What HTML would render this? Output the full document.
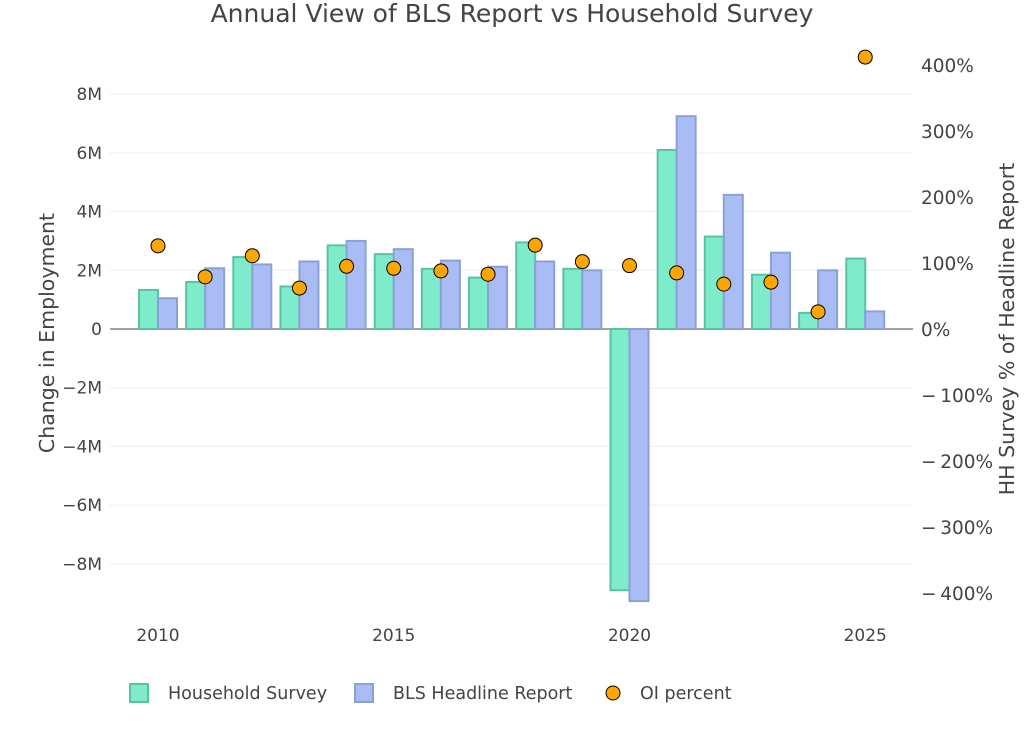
<!DOCTYPE html>
<html><head><meta charset="utf-8"><style>
body{margin:0;background:#fff;font-family:"DejaVu Sans","Liberation Sans",sans-serif}
svg text{font-family:"DejaVu Sans","Liberation Sans",sans-serif;fill:#444}
</style></head><body>
<svg id="c" width="1024" height="732">
<text x="512" y="22" text-anchor="middle" font-size="25">Annual View of BLS Report vs Household Survey</text>
<g id="grid"></g><g id="bars"></g><g id="pts"></g><g id="axes"></g>
<text transform="translate(54,333) rotate(-90)" text-anchor="middle" font-size="20.5">Change in Employment</text>
<text transform="translate(1014,329) rotate(-90)" text-anchor="middle" font-size="20.5">HH Survey % of Headline Report</text>
<g>
<rect x="130" y="684" width="18" height="18" fill="#7eeccb" stroke="#5ac2a3" stroke-width="2"/>
<text x="168" y="699" font-size="17.5">Household Survey</text>
<rect x="355" y="684" width="18" height="18" fill="#aabcf4" stroke="#8ba1d6" stroke-width="2"/>
<text x="393" y="699" font-size="17.5">BLS Headline Report</text>
<circle cx="613" cy="693" r="7" fill="#ffa500" stroke="#000" stroke-width="1"/>
<text x="640" y="699" font-size="17.5">OI percent</text>
</g>
</svg>
<script>
const years=[2010,2011,2012,2013,2014,2015,2016,2017,2018,2019,2020,2021,2022,2023,2024,2025];
const household=[1.33,1.6,2.45,1.45,2.85,2.55,2.05,1.75,2.95,2.05,-8.9,6.1,3.15,1.85,0.55,2.4];
const bls=[1.05,2.07,2.2,2.3,3.0,2.72,2.33,2.12,2.3,2.0,-9.27,7.25,4.57,2.6,2.0,0.6];
const oiPercent=[126,79,111,62,95,92,88,83,127,102,96,85,68,71,26,412];
const yTicks=[-8,-6,-4,-2,0,2,4,6,8];
const y2Ticks=[-400,-300,-200,-100,0,100,200,300,400];
const xTicks=[2010,2015,2020,2025];
const NS='http://www.w3.org/2000/svg';
const X=v=>158+(v-2010)*47.15;
const Y=v=>329-v*29.35;
const Y2=v=>329-v*0.66;
function mk(p,t,a){const e=document.createElementNS(NS,t);for(const k in a)e.setAttribute(k,a[k]);document.getElementById(p).appendChild(e);return e;}
yTicks.forEach(t=>{
 const l=mk('grid','line',{x1:110,x2:913,y1:Y(t),y2:Y(t),stroke:t===0?'#444':'#eee','stroke-width':1});
 
 
 const tx=mk('axes','text',{x:102,y:Y(t)+6,'text-anchor':'end','font-size':17});
 tx.textContent=t===0?'0':(t<0?'−'+(-t):t)+'M';
 
 
});
y2Ticks.forEach(t=>{
 const tx=mk('axes','text',{x:921,y:Y2(t)+7,'font-size':18.5});
 tx.textContent=(t<0?'−\u2009'+(-t):t)+'%';
 
 
});
xTicks.forEach(t=>{
 const tx=mk('axes','text',{x:X(t),y:641,'text-anchor':'middle','font-size':17});
 tx.textContent=t;
 
 
});
years.forEach((yr,i)=>{
 [[household[i],-19,'#7eeccb','#5ac2a3','bar-household'],[bls[i],0,'#aabcf4','#8ba1d6','bar-bls']].forEach(([v,o,f,s,n])=>{
  const r=mk('bars','rect',{x:X(yr)+o,y:Math.min(Y(v),Y(0)),width:19,height:Math.abs(Y(v)-Y(0)),fill:f,stroke:s,'stroke-width':2});
  
  
 });
 const c=mk('pts','circle',{cx:X(yr),cy:Y2(oiPercent[i]),r:7,fill:'#ffa500',stroke:'#000','stroke-width':1});
 
 
});
</script>
</body></html>
